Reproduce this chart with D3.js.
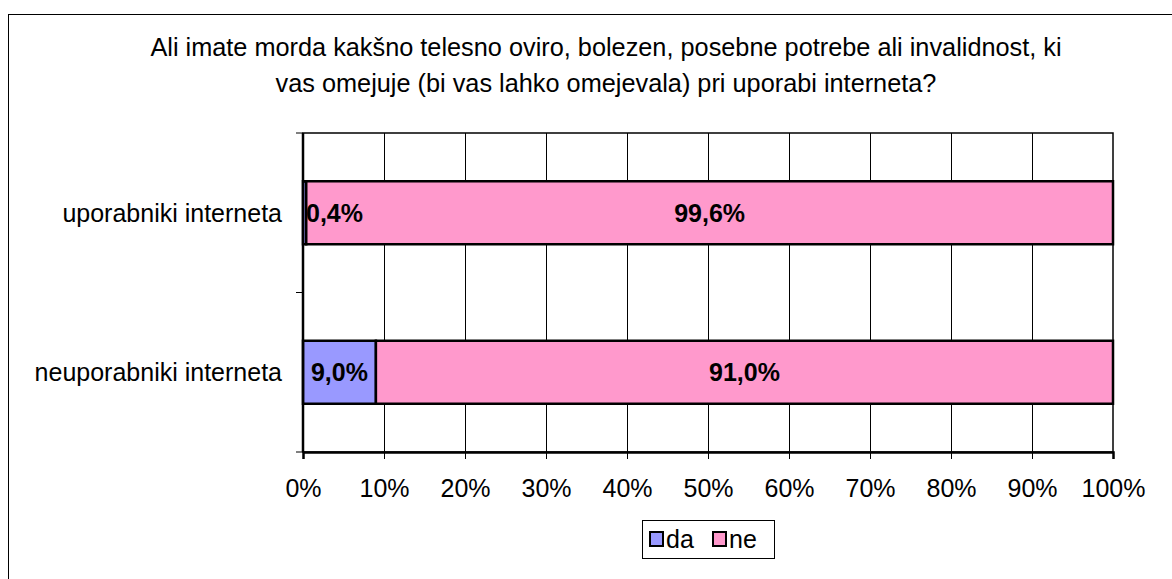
<!DOCTYPE html>
<html>
<head>
<meta charset="utf-8">
<script src="https://cdn.jsdelivr.net/npm/d3@7"></script>
<style>
  html, body { margin: 0; padding: 0; background: #fff; }
  svg { display: block; font-family: "Liberation Sans", Arial, sans-serif; }
</style>
</head>
<body>
<svg id="chart" width="1172" height="579"></svg>
<script>
// Question asked in the survey (two title lines)
const titleLines = [
  "Ali imate morda kakšno telesno oviro, bolezen, posebne potrebe ali invalidnost, ki",
  "vas omejuje (bi vas lahko omejevala) pri uporabi interneta?"
];
// Respondent groups, top to bottom
const categories = ["uporabniki interneta", "neuporabniki interneta"];
// Answer series
const seriesNames = ["da", "ne"];
const daValues = [0.4, 9.0];
const neValues = [99.6, 91.0];
const seriesColors = ["#9999FF", "#FF99CC"];
// Axis ticks (percent)
const xTicks = [0, 10, 20, 30, 40, 50, 60, 70, 80, 90, 100];

const svg = d3.select("#chart");
const W = 1172, H = 579;
const FS = 25;

// Chart area frame (continues past the right and bottom edges)
svg.append("rect")
  .attr("x", 8.5).attr("y", 14.5)
  .attr("width", W + 40).attr("height", H + 20)
  .attr("fill", "#fff").attr("stroke", "#000").attr("stroke-width", 1);

// Title
const title = svg.append("text")
  .attr("text-anchor", "middle")
  .attr("font-size", 25.3)
  .attr("fill", "#000");
titleLines.forEach((t, i) => {
  title.append("tspan").attr("x", 606).attr("y", 56 + i * 36).text(t);
});

const plot = { left: 303, right: 1113, top: 133, bottom: 452 };

const x = d3.scaleLinear().domain([0, 100]).range([plot.left, plot.right]);
const yBand = d3.scaleBand().domain(categories).range([plot.top, plot.bottom]);
const yMid = c => yBand(c) + yBand.bandwidth() / 2;

// Vertical gridlines
svg.append("g")
  .selectAll("line")
  .data(xTicks.slice(1, -1))
  .join("line")
  .attr("x1", d => Math.round(x(d)) + 0.5).attr("x2", d => Math.round(x(d)) + 0.5)
  .attr("y1", plot.top).attr("y2", plot.bottom)
  .attr("stroke", "#000").attr("stroke-width", 1);

// Plot area border
svg.append("rect")
  .attr("x", plot.left).attr("y", plot.top)
  .attr("width", plot.right - plot.left).attr("height", plot.bottom - plot.top)
  .attr("fill", "none").attr("stroke", "#000").attr("stroke-width", 1.5);

// Stacked data
const rows = categories.map((c, i) => ({ cat: c, da: daValues[i], ne: neValues[i] }));
const stacked = d3.stack().keys(seriesNames)(rows);

const barH = 63;
const barY = c => yMid(c) - barH / 2;

stacked.forEach((layer, li) => {
  svg.append("g")
    .selectAll("rect")
    .data(layer)
    .join("rect")
    .attr("x", d => x(d[0]))
    .attr("y", d => barY(d.data.cat))
    .attr("width", d => x(d[1]) - x(d[0]))
    .attr("height", barH)
    .attr("fill", seriesColors[li])
    .attr("stroke", "#000").attr("stroke-width", 2.5);
});

// Value labels
const fmt = v => v.toFixed(1).replace(".", ",") + "%";
stacked.forEach((layer, li) => {
  svg.append("g")
    .selectAll("text")
    .data(layer)
    .join("text")
    .attr("font-size", FS).attr("font-weight", "bold")
    .attr("y", d => yMid(d.data.cat) + 9)
    .attr("text-anchor", "middle")
    .text(d => fmt(d[1] - d[0]))
    .each(function (d) {
      const w = this.getComputedTextLength();
      let cx = (x(d[0]) + x(d[1])) / 2;
      cx = Math.max(cx, plot.left + 3 + w / 2);
      d3.select(this).attr("x", cx);
    });
});

// Left axis: ticks at band boundaries, category labels
const yEdges = [plot.top, (plot.top + plot.bottom) / 2, plot.bottom];
svg.append("g").selectAll("line").data(yEdges).join("line")
  .attr("x1", plot.left - 7).attr("x2", plot.left)
  .attr("y1", d => d).attr("y2", d => d)
  .attr("stroke", "#000").attr("stroke-width", 1);
svg.append("line")
  .attr("x1", plot.left).attr("x2", plot.left)
  .attr("y1", plot.top).attr("y2", plot.bottom)
  .attr("stroke", "#000").attr("stroke-width", 2.5);
svg.append("g").selectAll("text").data(categories).join("text")
  .attr("x", 282)
  .attr("y", d => yMid(d) + 9)
  .attr("text-anchor", "end")
  .attr("font-size", FS)
  .text(d => d);

// Bottom axis
const xAxis = d3.axisBottom(x).tickValues(xTicks).tickSize(7).tickPadding(20).tickFormat(d => d + "%");
const gx = svg.append("g").attr("transform", `translate(0,${plot.bottom})`).call(xAxis);
gx.select(".domain").attr("stroke", "#000").attr("stroke-width", 2.5);
gx.selectAll(".tick line").attr("stroke", "#000");
gx.selectAll(".tick text").attr("font-size", FS).attr("font-family", "Liberation Sans, Arial, sans-serif").attr("fill", "#000");

// Legend
const lg = svg.append("g");
lg.append("rect")
  .attr("x", 642.5).attr("y", 520.5).attr("width", 132).attr("height", 38)
  .attr("fill", "#fff").attr("stroke", "#000").attr("stroke-width", 1);
const legendX = [650, 713];
seriesNames.forEach((s, i) => {
  lg.append("rect")
    .attr("x", legendX[i]).attr("y", 532).attr("width", 13).attr("height", 14)
    .attr("fill", seriesColors[i]).attr("stroke", "#000").attr("stroke-width", 2);
  lg.append("text")
    .attr("x", legendX[i] + 16).attr("y", 548)
    .attr("font-size", FS)
    .text(s);
});
</script>
</body>
</html>
